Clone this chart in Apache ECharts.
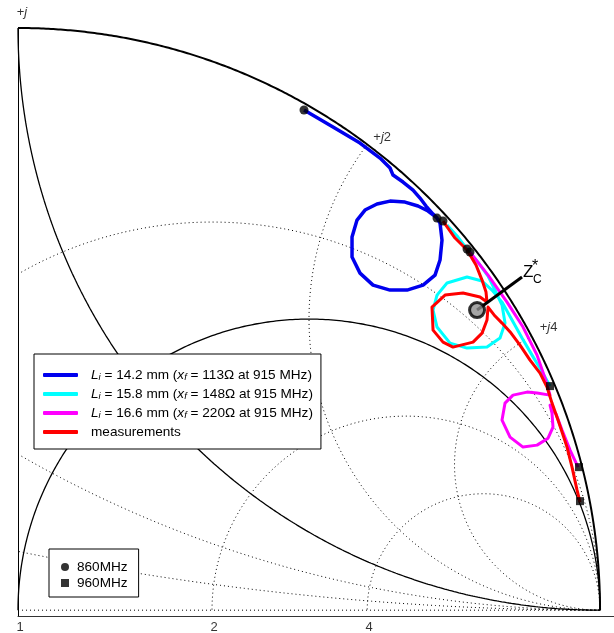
<!DOCTYPE html>
<html><head><meta charset="utf-8">
<script src="https://cdn.jsdelivr.net/npm/echarts@6/dist/echarts.min.js"></script>
<style>html,body{margin:0;padding:0;background:#fff}#c{width:614px;height:633px}</style>
</head><body><div id="c"></div>
<script>
// ---- Data (reflection-coefficient plane: [Re Γ, Im Γ]) ----
const seriesNames = [
  'Li = 14.2 mm (xf = 113Ω at 915 MHz)',
  'Li = 15.8 mm (xf = 148Ω at 915 MHz)',
  'Li = 16.6 mm (xf = 220Ω at 915 MHz)',
  'measurements'
];
const seriesLi = ['14.2', '15.8', '16.6'];
const seriesXf = ['113', '148', '220'];

const blueL142 = [
  [0.4914,0.8591],[0.5412,0.8299],[0.5876,0.8024],[0.6220,0.7766],[0.6392,0.7595],
  [0.6443,0.7474],[0.6615,0.7354],[0.6787,0.7216],[0.6907,0.7079],[0.7010,0.6942],
  [0.7131,0.6804],[0.7199,0.6735],[0.7251,0.6649],[0.7285,0.6357],[0.7251,0.6014],
  [0.7165,0.5756],[0.6959,0.5584],[0.6684,0.5498],[0.6392,0.5498],[0.6100,0.5584],
  [0.5876,0.5790],[0.5739,0.6065],[0.5739,0.6409],[0.5825,0.6701],[0.5962,0.6873],
  [0.6168,0.6976],[0.6392,0.7027],[0.6649,0.7010],[0.6873,0.6942],[0.7045,0.6856],
  [0.7182,0.6753]
];
const cyanL158 = [
  [0.7371,0.6615],[0.7560,0.6409],[0.7715,0.6203],[0.7904,0.5979],[0.8076,0.5739],
  [0.8196,0.5498],[0.8316,0.5241],[0.8368,0.4931],[0.8282,0.4674],[0.8058,0.4519],
  [0.7715,0.4502],[0.7423,0.4588],[0.7199,0.4863],[0.7131,0.5155],[0.7199,0.5412],
  [0.7371,0.5619],[0.7715,0.5722],[0.7973,0.5653],[0.8144,0.5498],[0.8316,0.5292],
  [0.8488,0.4983],[0.8660,0.4674],[0.8832,0.4381],[0.8986,0.4124],[0.9141,0.3849]
];
const magentaL166 = [
  [0.7766,0.6151],[0.8076,0.5756],[0.8402,0.5292],[0.8677,0.4863],[0.8918,0.4381],
  [0.9055,0.3986],[0.9141,0.3694],[0.8918,0.3729],[0.8746,0.3746],[0.8505,0.3694],
  [0.8368,0.3557],[0.8316,0.3265],[0.8454,0.2973],[0.8677,0.2801],[0.8918,0.2835],
  [0.9107,0.2955],[0.9192,0.3144],[0.9175,0.3385],[0.9141,0.3522],[0.9244,0.3368],
  [0.9347,0.3093],[0.9485,0.2749],[0.9622,0.2457]
];
const redMeasured = [
  [0.7302,0.6684],[0.7509,0.6392],[0.7715,0.6186],[0.7869,0.5928],[0.7973,0.5670],
  [0.8041,0.5464],[0.8058,0.5292],[0.7938,0.5378],[0.7646,0.5447],[0.7337,0.5412],
  [0.7113,0.5206],[0.7131,0.4811],[0.7302,0.4605],[0.7474,0.4519],[0.7818,0.4605],
  [0.7973,0.4759],[0.8058,0.4983],[0.8076,0.5206],[0.8196,0.5052],[0.8316,0.4931],
  [0.8471,0.4759],[0.8625,0.4553],[0.8797,0.4296],[0.8969,0.4072],[0.9089,0.3832],
  [0.9175,0.3557],[0.9278,0.3265],[0.9433,0.2801],[0.9519,0.2457],[0.9605,0.2062],
  [0.9656,0.1856]
];
const marker860 = [[0.4914,0.8591],[0.7199,0.6735],[0.7302,0.6684],[0.7715,0.6203],[0.7766,0.6151]];
const marker960 = [[0.9141,0.3849],[0.9639,0.2457],[0.9656,0.1873]];
const zcConj = [0.7887, 0.5155];

const resistanceTickLabels = [1, 2, 4];
const reactanceTickLabels = [1, 2, 4];
const rGridSolid = [0, 1];
const rGridDotted = [0.5, 2, 4];
const xGridSolid = [1];
const xGridDotted = [0.2, 0.5, 2, 4];

// ---- Build ----
const FONT = '"Liberation Sans", Arial, sans-serif';
const series = [];
function addCircle(cx, cy, R, style) {
  const N = 6000; let cur = [];
  const flush = () => {
    if (cur.length > 1) series.push({type:'line', data:cur, showSymbol:false, silent:true,
      lineStyle:style, z:1, animation:false});
    cur = [];
  };
  for (let i = 0; i <= N; i++) {
    const t = 2 * Math.PI * i / N;
    const x = cx + R * Math.cos(t), y = cy + R * Math.sin(t);
    if (x >= -1e-9 && y >= -1e-9 && x * x + y * y <= 1 + 1e-9) cur.push([x, y]); else flush();
  }
  flush();
}
const dotted = {color:'#000', width:1, type:[1,3]};
rGridDotted.forEach(r => addCircle(r/(1+r), 0, 1/(1+r), dotted));
xGridDotted.forEach(x => addCircle(1, 1/x, 1/x, dotted));
series.push({type:'line', data:[[0,0],[1,0]], showSymbol:false, silent:true, lineStyle:dotted, z:1});
rGridSolid.forEach(r => addCircle(r/(1+r), 0, 1/(1+r), {color:'#000', width: r === 0 ? 2 : 1.3}));
xGridSolid.forEach(x => addCircle(1, 1/x, 1/x, {color:'#000', width:1.3}));

const dataSets = [blueL142, cyanL158, magentaL166, redMeasured];
const colors = ['#0000ee', '#00ffff', '#ff00ff', '#ff0000'];
dataSets.forEach((d, i) => series.push({
  name: seriesNames[i], type:'line', data:d, showSymbol:false, smooth:false,
  color: colors[i], lineStyle:{color:colors[i], width: i === 0 ? 3.5 : 3, join:'round'}, z:3, animation:false
}));
series.push({name:'860MHz', type:'scatter', data:marker860, symbol:'circle', symbolSize:9,
  itemStyle:{color:'#000'}, z:5});
series.push({name:'960MHz', type:'scatter', data:marker960, symbol:'rect', symbolSize:8,
  itemStyle:{color:'#000'}, z:5});
series.push({name:'Zc', type:'scatter', data:[zcConj], symbol:'circle', symbolSize:15,
  itemStyle:{color:'#8f8f8f', borderColor:'#000', borderWidth:3}, z:7});

// tick labels on the real axis
series.push({type:'scatter', silent:true, symbolSize:1, itemStyle:{color:'rgba(0,0,0,0)'},
  data: resistanceTickLabels.map(r => ({value:[(r-1)/(r+1), 0], name:String(r)})),
  label:{show:true, position:'inside', offset:[2,17], formatter:p => p.name,
    fontFamily:FONT, fontSize:13, color:'#000'}, z:6});
// reactance labels on the outer circle
const reactLabelOffsets = [[4,-16],[15,-7],[17,-9]];
series.push({type:'scatter', silent:true, symbolSize:1, itemStyle:{color:'rgba(0,0,0,0)'},
  data: reactanceTickLabels.map((x, i) => ({
    value:[(x*x-1)/(x*x+1), 2*x/(x*x+1)], name: x === 1 ? '' : String(x),
    label:{offset: reactLabelOffsets[i]}})),
  label:{show:true, position:'inside', formatter:p => '+{j|j}' + p.name,
    fontFamily:FONT, fontSize:13, color:'#000',
    rich:{j:{fontStyle:'italic', fontFamily:FONT, fontSize:13}}}, z:6});

const rich = {
  n:{fontFamily:FONT, fontSize:13.6, color:'#000', lineHeight:15},
  it:{fontFamily:FONT, fontSize:13.6, fontStyle:'italic', color:'#000', lineHeight:15},
  sb:{fontFamily:FONT, fontSize:9.5, fontStyle:'italic', color:'#000', padding:[5,0,0,0], verticalAlign:'bottom'}
};
function legendFmt(name) {
  const i = seriesNames.indexOf(name);
  if (i < 0 || i > 2) return '{n|' + name + '}';
  return '{it|L}{sb|i}{n| = ' + seriesLi[i] + ' mm (}{it|x}{sb|f}{n| = ' + seriesXf[i] + 'Ω at 915 MHz)}';
}

const chart = echarts.init(document.getElementById('c'), null, {renderer:'canvas'});
chart.setOption({
  animation:false,
  backgroundColor:'#fff',
  grid:{left:18, top:28, width:596, height:588, containLabel:false},
  xAxis:{type:'value', min:0, max:1.024, axisLine:{show:true, onZero:false, lineStyle:{color:'#333', width:1}},
    axisTick:{show:false}, axisLabel:{show:false}, splitLine:{show:false}},
  yAxis:{type:'value', min:-0.01, max:1, axisLine:{show:true, onZero:false, lineStyle:{color:'#000', width:1}},
    axisTick:{show:false}, axisLabel:{show:false}, splitLine:{show:false}},
  legend:[{
    data: seriesNames, orient:'vertical', left:34, top:354, selectedMode:false,
    icon:'roundRect', itemWidth:35, itemHeight:4, itemGap:4.5,
    padding:[14,8,10,9], borderColor:'#000', borderWidth:1, backgroundColor:'#fff',
    textStyle:{fontFamily:FONT, fontSize:13.6, color:'#000', padding:[0,0,0,8], rich:rich},
    formatter: legendFmt
  },{
    data:['860MHz','960MHz'], orient:'vertical', left:49, top:549, selectedMode:false,
    itemWidth:8, itemHeight:8, itemGap:2,
    padding:[11,11,7,12], borderColor:'#000', borderWidth:1, backgroundColor:'#fff',
    textStyle:{fontFamily:FONT, fontSize:13.6, color:'#000', padding:[0,0,0,3]}
  }],
  series: series
});

const p = chart.convertToPixel({gridIndex:0}, zcConj);
chart.setOption({graphic:[
  {type:'line', shape:{x1:p[0], y1:p[1], x2:p[0]+45, y2:p[1]-33}, style:{stroke:'#000', lineWidth:3}, z:6},
  {type:'text', x:p[0]+46, y:p[1]-46, style:{text:'Z', font:'17px ' + FONT, fill:'#000', verticalAlign:'top'}, z:8},
  {type:'text', x:p[0]+56, y:p[1]-36, style:{text:'C', font:'12px ' + FONT, fill:'#000', verticalAlign:'top'}, z:8},
  {type:'text', x:p[0]+55, y:p[1]-51, style:{text:'*', font:'16px ' + FONT, fill:'#000', verticalAlign:'top'}, z:8}
]});
</script>
</body></html>
